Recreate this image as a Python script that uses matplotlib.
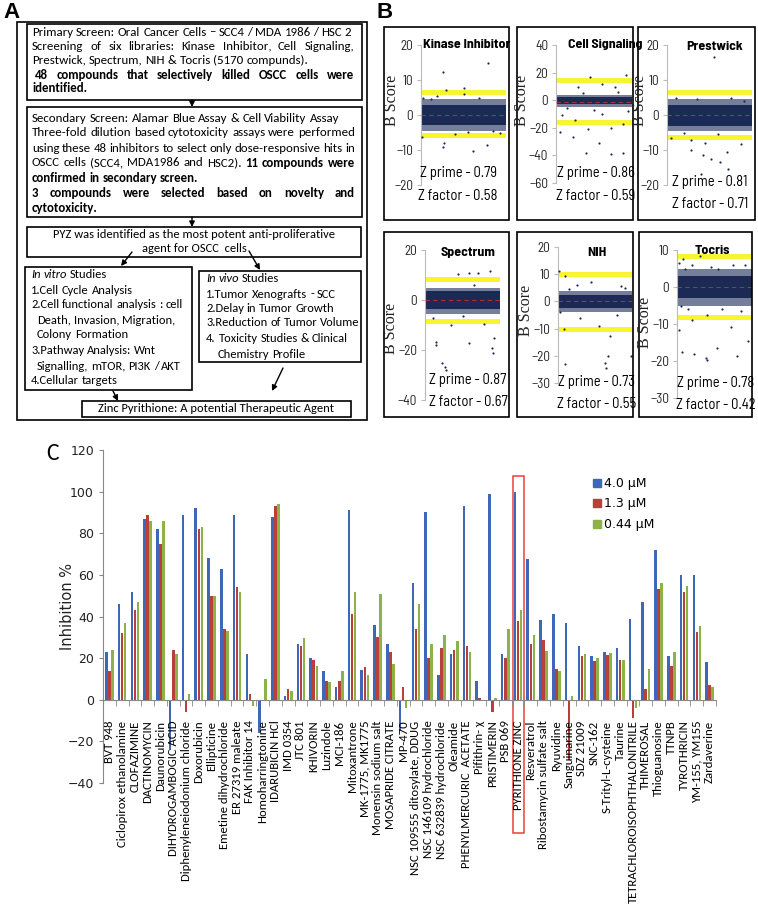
import numpy as np
import matplotlib
matplotlib.use('Agg')
import matplotlib.pyplot as plt
from matplotlib.patches import Rectangle, Patch

W, H = 758, 908
BODY = ['Carlito', 'Liberation Sans Narrow', 'Liberation Sans', 'DejaVu Sans']
COND = ['Barlow Semi Condensed', 'Archivo Narrow', 'Carlito', 'DejaVu Sans']
plt.rcParams['font.family'] = BODY

# ---------------- panel C data ----------------
compounds = ['BVT 948', 'Ciclopirox ethanolamine', 'CLOFAZIMINE', 'DACTINOMYCIN', 'Daunorubicin',
             'DIHYDROGAMBOGIC ACID', 'Diphenyleneiodonium chloride', 'Doxorubicin', 'Ellipticine',
             'Emetine dihydrochloride', 'ER 27319 maleate', 'FAK Inhibitor 14', 'Homoharringtonine',
             'IDARUBICIN HCl', 'IMD 0354', 'JTC 801', 'KHIVORIN', 'Luzindole', 'MCI-186', 'Mitoxantrone',
             'MK-1775, MK1775', 'Monensin sodium salt', 'MOSAPRIDE CITRATE', 'MP-470',
             'NSC 109555 ditosylate, DDUG', 'NSC 146109 hydrochloride', 'NSC 632839 hydrochloride',
             'Oleamide', 'PHENYLMERCURIC  ACETATE', 'Pifithrin- χ', 'PRISTIMERIN', 'PSB 069',
             'PYRITHIONE ZINC', 'Resveratrol', 'Ribostamycin sulfate salt', 'Ryuvidine', 'Sanguinarine',
             'SDZ 21009', 'SNC-162', 'S-Trityl-L-cysteine', 'Taurine', 'TETRACHLOROISOPHTHALONITRILE',
             'THIMEROSAL', 'Thioguanosine', 'TTNPB', 'TYROTHRICIN', 'YM-155, YM155', 'Zardaverine']
inhib_4um = [23, 46, 52, 87, 82, -24, 89, 92, 68, 63, 89, 22, -16, 88, 2, 27, 20, 14, 6, 91,
             14.5, 36, 27, -15, 56, 90, 12, 22, 93, 9, 99, 22, 100, 67.5, 38.5, 41, 37, 26,
             21, 23, 25, 39, 47, 72, 21, 60, 60, 18]
inhib_1_3um = [14, 32, 43, 89, 75, 24, -6, 82, 50, 34, 54, 3, 0, 93, 5, 26, 19, 9, 9, 41,
               15.5, 30, 23, 6, 34, 20, 25, 24, 26, 1, -6, 20, 38, 27, 28.5, 15, -29, 21,
               18.5, 21.5, 19, -9, 5, 53, 16, 52, 32.5, 7]
inhib_044um = [24, 37, 47, 86, 86, 22, 3, 83, 50, 33, 52, -3, 10, 94, 4, 29.5, 16, 8.5, 14, 52,
               12, 51, 17, -4, 46, 27, 31, 28, 23, 0, 1, 34, 43, 31, 23.5, 14, 2, 22,
               20, 22.5, 19, -4, 15, 56, 23, 54.5, 35.5, 6]
conc_labels = ['4.0 μM', '1.3 μM', '0.44 μM']
highlight = 'PYRITHIONE ZINC'

# ---------------- panel B data ----------------
libraries = ['Kinase Inhibitor', 'Cell Signaling', 'Prestwick', 'Spectrum', 'NIH', 'Tocris']
z_prime = ['0.79', '0.86', '0.81', '0.87', '0.73', '0.78']
z_factor = ['0.58', '0.59', '0.71', '0.67', '0.55', '0.42']
cut_hi = [6.5, 14.5, 6.7, 8.5, 10.2, 8.5]
cut_lo = [-5.8, -16, -6.2, -8.3, -10, -8.2]
bulk_lo = [-2.8, -2.5, -3, -3.5, -2.5, -3]
bulk_hi = [2.8, 2.5, 3, 3.5, 2.5, 3]
fringe_lo = [-4.5, -5, -4.5, -5.5, -4, -5]
fringe_hi = [4.5, 4, 4.5, 5, 4, 5]
red_level = [0, -1.5, 0, 0, 0, 0]
b_ticks = [[-20, -10, 0, 10, 20], [-60, -40, -20, 0, 20, 40], [-20, -10, 0, 10, 20],
           [-40, -20, 0, 20], [-30, -20, -10, 0, 10, 20], [-30, -20, -10, 0, 10]]
# (plate position 0..1, B score) of points outside the dense band
kinase_pts = [(0.26, 12.4), (0.29, 7.2), (0.19, 5.5), (0.5, 7.8), (0.5, 6), (0.79, 15), (0.02, 5),
              (0.01, -6.3), (0.26, -9), (0.27, -8), (0.61, -10.4), (0.78, -8.5), (0.93, -5), (0.4, -5.3),
              (0.12, 4.5), (0.68, 4.8), (0.85, -4.6), (0.55, -4.8)]
cellsig_pts = [(0.45, 17), (0.6, 11.6), (0.92, 18), (0.29, 9.4), (0.77, 9.4), (0.08, -11), (0.23, -26.6),
               (0.05, -23), (0.4, -38), (0.56, -31), (0.73, -39), (0.88, -38), (0.42, -21), (0.72, -20),
               (0.25, -14), (0.6, -10), (0.88, -17), (0.15, -6), (0.5, -7), (0.95, -8), (0.35, 5), (0.82, 6)]
prestwick_pts = [(0.55, 16.5), (0.1, 5), (0.9, 4), (0.28, -10), (0.42, -11.5), (0.52, -12.6),
                 (0.62, -13.5), (0.71, -10.6), (0.87, -8.2), (0.05, -6.5), (0.45, -8), (0.28, -7),
                 (0.72, -15.5), (0.4, -16.8), (0.2, -5), (0.6, -5.5), (0.35, 4.6), (0.75, 4.8)]
spectrum_pts = [(0.44, 10.4), (0.58, 11), (0.71, 11), (0.86, 11.7), (0.14, -16.7), (0.15, -18),
                (0.22, -25), (0.27, -26.7), (0.28, -28), (0.45, -32.7), (0.59, -17), (0.9, -21),
                (0.89, -19), (0.92, -15), (0.35, -10), (0.78, -9.5), (0.1, -7), (0.5, -6.5), (0.65, 6)]
nih_pts = [(0.02, 11), (0.1, 9.2), (0.25, 6), (0.45, 7), (0.85, 5.5), (0.9, 5), (0.08, -10), (0.1, -23),
           (0.63, -22.7), (0.65, -24.5), (0.67, -20), (0.7, -12.6), (0.98, -20), (0.03, -4), (0.55, -9),
           (0.3, -6), (0.8, -5), (0.15, 4.5)]
tocris_pts = [(0.02, 6.5), (0.08, 7.5), (0.2, 6), (0.3, 8.3), (0.45, 5.5), (0.74, 6), (0.9, 6),
              (0.02, -11.5), (0.06, -17.5), (0.22, -18.2), (0.38, -19.2), (0.4, -19.6), (0.53, -16.5),
              (0.8, -18.6), (0.95, -14.6), (0.72, -10.9), (0.4, -7.7), (0.2, -9), (0.1, 5), (0.15, -6),
              (0.6, -6), (0.85, -6.5), (0.55, 5), (0.05, -5)]
library_pts = [kinase_pts, cellsig_pts, prestwick_pts, spectrum_pts, nih_pts, tocris_pts]

BLUE, RED, GREEN = '#3F67B8', '#B8403C', '#8DB348'
NAVY = '#1B2A55'

fig = plt.figure(figsize=(W / 100, H / 100), dpi=100)


def px_axes(x0, y0, x1, y1):
    return fig.add_axes([x0 / W, 1 - y1 / H, (x1 - x0) / W, (y1 - y0) / H])


# ---------------- panel C ----------------
axc = px_axes(103, 450, 716, 783)
x = np.arange(len(compounds))
axc.bar(x - 0.24, inhib_4um, 0.2, color=BLUE, label=conc_labels[0])
axc.bar(x, inhib_1_3um, 0.2, color=RED, label=conc_labels[1])
axc.bar(x + 0.24, inhib_044um, 0.2, color=GREEN, label=conc_labels[2])
axc.set_xlim(-0.5, len(compounds) - 0.5)
axc.set_ylim(-40, 120)
axc.set_yticks(range(-40, 121, 20))
for lab in axc.get_yticklabels():
    lab.set_fontfamily('DejaVu Sans')
    lab.set_fontsize(9)
axc.spines['top'].set_visible(False)
axc.spines['right'].set_visible(False)
axc.spines['left'].set_color('#888888')
axc.spines['bottom'].set_color('#888888')
axc.spines['bottom'].set_position(('data', 0))
axc.set_xticks(x)
axc.set_xticklabels(compounds, rotation=90, fontsize=9.2)
axc.set_xticks(np.arange(-0.5, len(compounds)), minor=True)
axc.tick_params(axis='x', which='major', length=0, pad=15)
axc.tick_params(axis='x', which='minor', length=4, color='#888888')
axc.tick_params(axis='y', length=3, color='#888888', labelcolor='#222222')
hi = compounds.index(highlight)
axc.add_patch(Rectangle((hi - 0.42, -64), 0.87, 171.5, fill=False, edgecolor='#E8403A',
                        lw=1.1, clip_on=False))
fig.legend([Patch(color=c) for c in (BLUE, RED, GREEN)], conc_labels, loc='upper left',
           bbox_to_anchor=(593 / W, 1 - 477 / H), frameon=False,
           prop={'family': 'DejaVu Sans', 'size': 9}, handlelength=0.6, handleheight=0.6,
           handletextpad=0.25, labelspacing=0.6, borderpad=0, borderaxespad=0)

# ---------------- panel B ----------------
b_boxes = [(384, 27, 509, 220), (517, 27, 633, 220), (638, 27, 755, 220),
           (384, 232, 509, 417), (517, 232, 633, 417), (639, 232, 752, 417)]
b_axes = [(421, 45, 506, 185), (556, 45, 632, 183), (667, 45, 752, 185),
          (425, 250, 500, 400), (558, 247, 632, 383), (677, 250, 752, 398)]
for i, lib in enumerate(libraries):
    ax = px_axes(*b_axes[i])
    ax.set_ylim(b_ticks[i][0], b_ticks[i][-1])
    ax.set_xlim(0, 1)
    ax.fill_between([0, 1], fringe_lo[i], fringe_hi[i], color=NAVY, alpha=0.6, lw=0, zorder=2)
    ax.fill_between([0, 1], bulk_lo[i], bulk_hi[i], color=NAVY, lw=0, zorder=2)
    pts = np.array(library_pts[i])
    ax.scatter(pts[:, 0], pts[:, 1], s=2.5, color=NAVY, lw=0, zorder=3)
    ax.axhline(cut_hi[i], color='#F8F52A', lw=3.5, zorder=1)
    ax.axhline(cut_lo[i], color='#F8F52A', lw=3.5, zorder=1)
    ax.axhline(red_level[i], color='#D03030', lw=0.8, ls=(0, (4, 3)), zorder=4, alpha=0.8)
    ax.set_yticks(b_ticks[i])
    ax.set_xticks([])
    for s in ('top', 'right', 'bottom'):
        ax.spines[s].set_visible(False)
    ax.spines['left'].set_color('#BBBBBB')
    ax.spines['left'].set_linewidth(0.8)
    ax.tick_params(axis='y', length=3, color='#BBBBBB', labelsize=9.5, labelcolor='#222222', pad=2.5)
    for lab in ax.get_yticklabels():
        lab.set_fontfamily(COND)
    ax.patch.set_visible(False)

ov = fig.add_axes([0, 0, 1, 1])
ov.set_xlim(0, W)
ov.set_ylim(H, 0)
ov.axis('off')
ov.patch.set_visible(False)
ov.set_zorder(10)

for (x0, y0, x1, y1) in b_boxes:
    ov.add_patch(Rectangle((x0, y0), x1 - x0, y1 - y0, fill=False, edgecolor='black', lw=1.2))

b_title_xy = [(467, 45), (605, 45), (715, 46), (468, 252), (597, 252), (712, 250)]
b_ylab_xy = [(392, 100), (522, 100), (640, 100), (391, 328), (526, 310), (645, 322)]
b_z_xy = [(458, 173, 196), (596, 173, 196), (710, 182, 204), (468, 380, 402), (597, 382, 404),
          (716, 383, 405)]
for i, lib in enumerate(libraries):
    ov.text(*b_title_xy[i], lib, family=COND, fontsize=10, fontweight='bold', ha='center', va='center')
    ov.text(*b_ylab_xy[i], 'B Score', family='Liberation Serif', fontsize=11.5, rotation=90,
            ha='center', va='center', color='#222222')
    zx, zy1, zy2 = b_z_xy[i]
    ov.text(zx, zy1, 'Z prime - ' + z_prime[i], family=COND, fontsize=10.5, ha='center', va='center')
    ov.text(zx, zy2, 'Z factor - ' + z_factor[i], family=COND, fontsize=10.5, ha='center', va='center')

# ---------------- panel A ----------------
renderer = fig.canvas.get_renderer()


def text_w(s, size, weight='normal', style='normal'):
    t = ov.text(0, 0, s, fontsize=size, fontweight=weight, fontstyle=style)
    w = t.get_window_extent(renderer).width
    t.remove()
    return w


def words(s, weight='normal', style='normal'):
    return [(w, weight, style) for w in s.split()]


def write(x0, y, ws, x1=None, size=9.3):
    widths = [text_w(w, size, wt, st) for w, wt, st in ws]
    gap = text_w('a a', size) - text_w('aa', size)
    if x1 is not None and len(ws) > 1:
        gap = (x1 - x0 - sum(widths)) / (len(ws) - 1)
    xx = x0
    for (w, wt, st), wd in zip(ws, widths):
        ov.text(xx, y, w, fontsize=size, fontweight=wt, fontstyle=st, ha='left', va='center')
        xx += wd + gap


def box(x0, y0, x1, y1, lw=1.2):
    ov.add_patch(Rectangle((x0, y0), x1 - x0, y1 - y0, fill=False, edgecolor='black', lw=lw))


def arrow(xa, ya, xb, yb):
    ov.annotate('', xy=(xb, yb), xytext=(xa, ya),
                arrowprops=dict(arrowstyle='-|>', color='black', lw=1.0, mutation_scale=8,
                                shrinkA=0, shrinkB=0))


box(17, 22, 367, 420)
box(27, 24, 362, 100)
box(27, 107, 362, 217)
box(27, 227, 361, 257)
box(25, 267, 192, 390)
box(199, 271, 361, 362)
box(82, 401, 351, 417)

write(32, 32, words('Primary Screen: Oral Cancer Cells – SCC4 / MDA 1986 / HSC 2'))
write(32, 46, words('Screening of six libraries: Kinase Inhibitor, Cell Signaling,'), 354)
write(32, 60, words('Prestwick, Spectrum, NIH & Tocris (5170 compunds).'))
write(35, 75, words('48 compounds that selectively killed OSCC cells were', 'bold'), 354)
write(32, 88, words('identified.', 'bold'))

write(32, 118, words('Secondary Screen: Alamar Blue Assay & Cell Viability Assay'))
write(32, 133, words('Three-fold dilution based cytotoxicity assays were performed'), 355)
write(32, 148, words('using these 48 inhibitors to select only dose-responsive hits in'), 355)
write(32, 163, words('OSCC cells (SCC4, MDA1986 and HSC2).') + words('11 compounds were', 'bold'), 355)
write(32, 178, words('confirmed in secondary screen.', 'bold'))
write(32, 193, words('3 compounds were selected based on novelty and', 'bold'), 355)
write(32, 208, words('cytotoxicity.', 'bold'))

ov.text(194, 235, 'PYZ was identified as the most potent anti-proliferative', fontsize=9,
        ha='center', va='center')
ov.text(194, 249, 'agent for OSCC  cells', fontsize=9, ha='center', va='center')

write(31, 274, words('In vitro', style='italic') + words('Studies'), size=9)
write(31, 290, words('1.Cell Cycle Analysis'), size=9)
write(31, 305, words('2.Cell functional analysis : cell'), size=9)
write(37, 320, words('Death, Invasion, Migration,'), size=9)
write(37, 335, words('Colony Formation'), size=9)
write(31, 350, words('3.Pathway Analysis:  Wnt'), size=9)
write(37, 366, words('Signalling, mTOR, PI3K / AKT'), size=9)
write(31, 380, words('4.Cellular targets'), size=9)

write(206, 278, words('In vivo', style='italic') + words('Studies'), size=9)
write(206, 294, words('1.Tumor Xenografts - SCC'), size=9)
write(206, 309, words('2.Delay in Tumor Growth'), size=9)
write(206, 323, words('3.Reduction of Tumor Volume'), size=9)
write(206, 339, words('4. Toxicity Studies & Clinical'), size=9)
write(218, 354, words('Chemistry Profile'), size=9)

ov.text(216, 409, 'Zinc Pyrithione: A potential Therapeutic Agent', fontsize=9, ha='center', va='center')

arrow(192, 100, 192, 107)
arrow(192, 217, 192, 227)
arrow(132, 252, 121, 266)
arrow(249, 251, 260, 270)
arrow(283, 368, 272, 391)
arrow(113, 391, 118, 401)

# panel letters and axis title
ov.text(3, 12, 'A', fontsize=16, fontweight='bold', family='Liberation Sans', va='center')
ov.text(376, 12, 'B', fontsize=16, fontweight='bold', family='Liberation Sans', va='center')
ov.text(46, 454, 'C', fontsize=17, family='Carlito', va='center')
ov.text(67, 607, 'Inhibition %', fontsize=10.5, family='DejaVu Sans', rotation=90,
        ha='center', va='center', color='#222222')

fig.savefig('out.png', dpi=100)
